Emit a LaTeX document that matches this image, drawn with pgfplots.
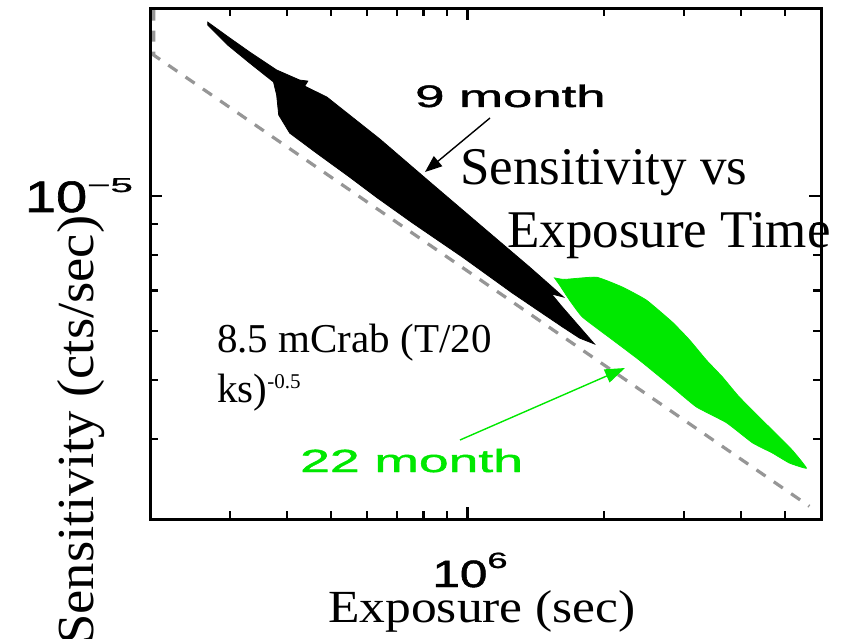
\documentclass[border=0pt]{standalone}
\usepackage{pgfplots}
\pgfplotsset{compat=1.18}
\usepackage{graphicx}
\usepackage{fontspec}
\setmainfont{Liberation Serif}
\newfontfamily\idlfont[FakeBold=1.2]{Liberation Sans}
\usetikzlibrary{arrows.meta}

\definecolor{batgreen}{RGB}{0,232,0}
\definecolor{dashgray}{RGB}{150,150,150}

% serif text at a given size (pt)
\newcommand\serif[2]{{\fontsize{#1pt}{#1pt}\selectfont #2}}
% wide sans text: size, horizontal stretch, text
\newcommand\idl[3]{\scalebox{#2}[1]{\idlfont\fontsize{#1pt}{#1pt}\selectfont #3}}

\newcommand\xlab{\idl{38}{1.3}{10}\raisebox{19pt}{\idl{22}{1.65}{6}}}
\newcommand\ylab{\idl{44}{1.27}{10}\raisebox{20pt}{\idl{20}{2.0}{−5}}}

\begin{document}
\begin{tikzpicture}
\begin{axis}[
  at={(150pt,119pt)}, anchor=south west,
  scale only axis, width=671pt, height=511pt,
  xmode=log, ymode=log,
  xmin=2e5, xmax=6e6, ymin=2.954e-6, ymax=2.033e-5,
  xtick={1e6}, xticklabels={},
  ytick={1e-5}, yticklabels={},
  minor xtick={3e5,4e5,5e5,6e5,7e5,8e5,9e5,2e6,3e6,4e6,5e6},
  minor ytick={4e-6,5e-6,6e-6,7e-6,8e-6,9e-6},
  tick align=inside,
  major tick length=12pt, minor tick length=8pt,
  tick style={black, line width=2.2pt},
  every tick/.append style={line width=2.2pt},
  major tick style={line width=2.2pt},
  minor tick style={line width=2.2pt},
  axis line style={line width=3pt},
  clip=false,
]
% 8.5 mCrab (T/20 ks)^-0.5 limit
\addplot[dashgray, line width=3.2pt, dash pattern=on 11pt off 10pt]
  coordinates {(2.038e5,2.02e-5) (2.038e5,1.702e-5) (5.656e6,3.10e-6)};

% 9 month sensitivity region
\addplot[fill=black, draw=black, line width=0.8pt] coordinates {
  (2.679e5,1.928e-5) (2.995e5,1.816e-5) (3.314e5,1.722e-5) (3.80e5,1.609e-5)
  (4.27e5,1.549e-5) (4.45e5,1.543e-5) (4.38e5,1.514e-5) (4.90e5,1.453e-5)
  (6.41e5,1.240e-5) (8.25e5,1.055e-5) (1.063e6,8.98e-6) (1.369e6,7.65e-6)
  (1.492e6,7.23e-6) (1.626e6,6.83e-6) (1.530e6,6.91e-6) (1.610e6,6.60e-6)
  (1.903e6,5.72e-6) (1.764e6,5.85e-6) (1.618e6,6.10e-6) (1.256e6,6.93e-6)
  (9.75e5,7.94e-6) (7.57e5,9.03e-6) (6.34e5,9.92e-6) (5.50e5,1.074e-5)
  (4.65e5,1.176e-5) (4.06e5,1.268e-5) (3.84e5,1.358e-5) (3.80e5,1.464e-5)
  (3.74e5,1.538e-5) (3.314e5,1.652e-5) (2.965e5,1.768e-5) (2.679e5,1.907e-5)
} -- cycle;

% 22 month sensitivity region
\addplot[fill=batgreen, draw=batgreen, line width=0.8pt, smooth, tension=0.25] coordinates {
  (1.554e6,7.34e-6) (1.635e6,7.30e-6) (1.922e6,7.36e-6) (2.193e6,7.09e-6)
  (2.476e6,6.75e-6) (2.825e6,6.21e-6) (3.079e6,5.81e-6) (3.357e6,5.38e-6)
  (3.640e6,5.05e-6) (3.967e6,4.68e-6) (4.690e6,4.13e-6)
  (5.189e6,3.83e-6) (5.571e6,3.58e-6) (5.111e6,3.65e-6) (4.690e6,3.79e-6)
  (4.238e6,3.94e-6) (3.715e6,4.25e-6) (3.190e6,4.51e-6) (2.825e6,4.86e-6)
  (2.390e6,5.38e-6) (2.085e6,5.81e-6) (1.791e6,6.33e-6) (1.677e6,6.75e-6)
  (1.594e6,7.15e-6)
} -- cycle;

% frame
\draw[line width=3pt, black] (rel axis cs:0,0) rectangle (rel axis cs:1,1);
\end{axis}

% tick labels
\node[anchor=base east, inner sep=0] at (133pt,426pt) {\ylab};
\node[anchor=base, inner sep=0] at (470pt,51pt) {\xlab};

% annotations
\node[anchor=base west, inner sep=0] at (415pt,531pt) {\idl{31}{1.7}{9 month}};
\draw[line width=1.4pt, -{Triangle[length=17pt,width=13pt]}] (490pt,520pt) -- (425pt,466pt);
\node[anchor=base west, inner sep=0] at (460pt,453pt) {\serif{53}{Sensitivity vs}};
\node[anchor=base west, inner sep=0] at (507pt,390pt) {\serif{53}{Exposure Time}};
\node[anchor=base west, inner sep=0] at (217pt,286pt) {\serif{41}{8.5 mCrab (T/20}};
\node[anchor=base west, inner sep=0] at (217pt,236pt) {\serif{41}{ks)\raisebox{14pt}{\fontsize{21pt}{21pt}\selectfont -0.5}}};
\node[anchor=base west, inner sep=0] at (300pt,166pt) {\color{batgreen}\idl{32}{1.67}{22 month}};
\draw[batgreen, line width=1.4pt, -{Triangle[length=20pt,width=14pt]}] (460pt,198pt) -- (625pt,270pt);

% axis titles
\node[anchor=base, inner sep=0] at (482pt,16pt) {\scalebox{1.12}[1]{\serif{46}{Exposure (sec)}}};
\node[anchor=base west, rotate=90, inner sep=0] at (93pt,-7pt) {\scalebox{1.05}[1]{\serif{52}{Sensitivity (cts/sec)}}};

\pgfresetboundingbox
\useasboundingbox (0,0) rectangle (850pt,638pt);
\end{tikzpicture}
\end{document}
